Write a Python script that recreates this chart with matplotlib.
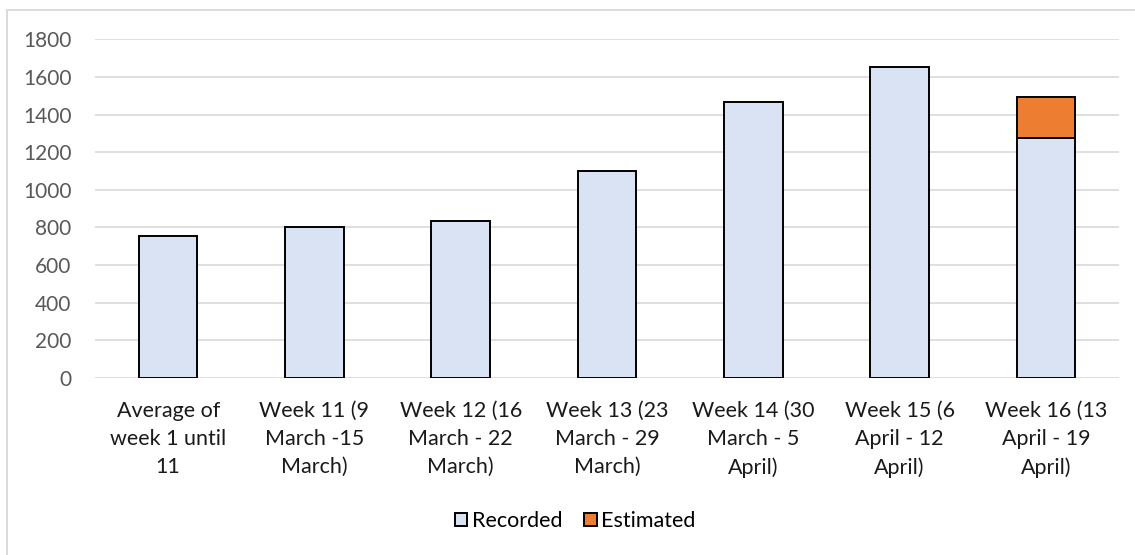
import numpy as np
import matplotlib.pyplot as plt
from matplotlib.patches import Rectangle

plt.rcParams['font.family'] = ['Lato', 'DejaVu Sans']

# weekly counts, last week split into recorded + estimated
categories = ["Average of\nweek 1 until\n11",
              "Week 11 (9\nMarch -15\nMarch)",
              "Week 12 (16\nMarch - 22\nMarch)",
              "Week 13 (23\nMarch - 29\nMarch)",
              "Week 14 (30\nMarch - 5\nApril)",
              "Week 15 (6\nApril - 12\nApril)",
              "Week 16 (13\nApril - 19\nApril)"]
recorded = [757, 805, 837, 1099, 1469, 1655, 1278]
estimated = [0, 0, 0, 0, 0, 0, 215]
yticks = [0, 200, 400, 600, 800, 1000, 1200, 1400, 1600, 1800]

W, H = 1135, 555
fig = plt.figure(figsize=(W / 100, H / 100), dpi=100)
ax = fig.add_axes([95 / W, 1 - 378 / H, (1119 - 95) / W, (378 - 39.3) / H])

# light frame round the chart area
fig.patches.append(Rectangle((7 / W, -0.1), 1.2, 1 - 10 / H + 0.1, transform=fig.transFigure,
                             fill=False, edgecolor="#d9d9d9", linewidth=1.3))

x = np.arange(len(categories))
rec = np.array(recorded)
est = np.array(estimated)

ax.bar(x, rec, width=0.4, color="#dae3f3", edgecolor="black", linewidth=1.4,
       zorder=3, label="Recorded")
m = est > 0
ax.bar(x[m], est[m], bottom=rec[m], width=0.4, color="#ed7d31", edgecolor="black",
       linewidth=1.4, zorder=3, label="Estimated")

ax.set_xlim(-0.5, len(categories) - 0.5)
ax.set_ylim(0, 1800)
ax.set_yticks(yticks)
ax.yaxis.grid(True, color="#d9d9d9", linewidth=1.2, zorder=0)
ax.set_axisbelow(True)
for s in ax.spines.values():
    s.set_visible(False)
ax.tick_params(axis="both", length=0)
ax.tick_params(axis="y", labelsize=15, labelcolor="#595959", pad=17)
ax.set_xticks(x)
ax.set_xticklabels(categories, fontsize=15.5, color="#1a1a1a", linespacing=1.5)
ax.tick_params(axis="x", pad=16.5)

fig.legend(loc="center", bbox_to_anchor=(575 / W, 1 - 521 / H), ncol=2, frameon=False,
           fontsize=15.5, handlelength=0.6, handleheight=0.6, handletextpad=0.2,
           columnspacing=1.0)

fig.savefig("out.png", dpi=100, facecolor="white")
